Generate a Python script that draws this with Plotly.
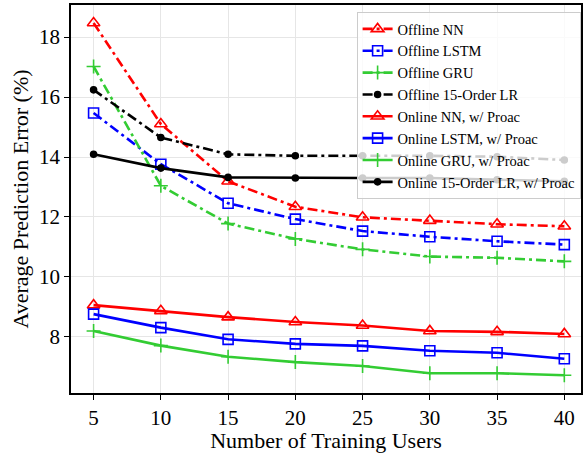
import plotly.graph_objects as go

users = [5, 10, 15, 20, 25, 30, 35, 40]

offline_nn = [18.47, 15.10, 13.19, 12.34, 11.99, 11.88, 11.76, 11.69]
offline_lstm = [15.47, 13.76, 12.46, 11.93, 11.53, 11.34, 11.19, 11.08]
offline_gru = [17.02, 13.04, 11.78, 11.27, 10.92, 10.68, 10.64, 10.52]
offline_lr = [16.24, 14.65, 14.09, 14.04, 14.04, 14.04, 14.01, 13.90]
online_nn = [9.06, 8.87, 8.66, 8.50, 8.38, 8.20, 8.17, 8.10]
online_lstm = [8.76, 8.31, 7.92, 7.77, 7.70, 7.54, 7.47, 7.27]
online_gru = [8.20, 7.71, 7.34, 7.16, 7.03, 6.79, 6.79, 6.72]
online_lr = [14.09, 13.63, 13.32, 13.30, 13.30, 13.30, 13.24, 13.19]

names = ["Offline NN", "Offline LSTM", "Offline GRU", "Offline 15-Order LR",
         "Online NN, w/ Proac", "Online LSTM, w/ Proac", "Online GRU, w/ Proac",
         "Online 15-Order LR, w/ Proac"]
series = [offline_nn, offline_lstm, offline_gru, offline_lr,
          online_nn, online_lstm, online_gru, online_lr]

RED = "#ff0000"
BLUE = "#0000ff"
GREEN = "#33cc33"
BLACK = "#000000"
colors = [RED, BLUE, GREEN, BLACK, RED, BLUE, GREEN, BLACK]
symbols = ["triangle-up-open", "square-open", "cross-thin", "circle",
           "triangle-up-open", "square-open", "cross-thin", "circle"]
sizes = [11, 10, 10, 6, 11, 10, 10, 6]
DASHDOT = "10px,4px,3px,4px"
dashes = [DASHDOT] * 4 + ["solid"] * 4

fig = go.Figure()
for name, ys, c, s, sz, d in zip(names, series, colors, symbols, sizes, dashes):
    fig.add_trace(go.Scatter(
        x=users, y=ys, name=name, mode="lines+markers",
        line=dict(color=c, width=2.6, dash=d),
        marker=dict(symbol=s, size=sz, color=c, line=dict(color=c, width=1.6)),
    ))

font_family = "Liberation Serif, Times New Roman, serif"
fig.update_layout(
    width=584, height=453,
    margin=dict(l=71, r=1, t=5, b=60),
    plot_bgcolor="white", paper_bgcolor="white",
    font=dict(family=font_family, color="black"),
    xaxis=dict(
        range=[3.32, 41.24], tickvals=users, ticks="outside", ticklen=5,
        tickcolor="black", tickfont=dict(size=21),
        showgrid=True, gridcolor="#e6e6e6", gridwidth=1,
        showline=True, linecolor="black", linewidth=1.5, mirror=True,
        zeroline=False,
        title=dict(text="Number of Training Users", font=dict(size=22), standoff=2),
    ),
    yaxis=dict(
        range=[6.13, 19.07], tickvals=[8, 10, 12, 14, 16, 18], ticks="outside",
        ticklen=5, tickcolor="black", tickfont=dict(size=21),
        showgrid=True, gridcolor="#e6e6e6", gridwidth=1,
        showline=True, linecolor="black", linewidth=1.5, mirror=True,
        zeroline=False,
        title=dict(text="Average Prediction Error (%)", font=dict(size=22), standoff=4),
    ),
    legend=dict(
        x=0.56, y=0.982, xanchor="left", yanchor="top",
        bgcolor="rgba(255,255,255,0.8)", bordercolor="#cccccc", borderwidth=1,
        font=dict(size=14.5, family=font_family), tracegroupgap=0,
        itemwidth=30,
    ),
)

fig.write_html("out.html")
